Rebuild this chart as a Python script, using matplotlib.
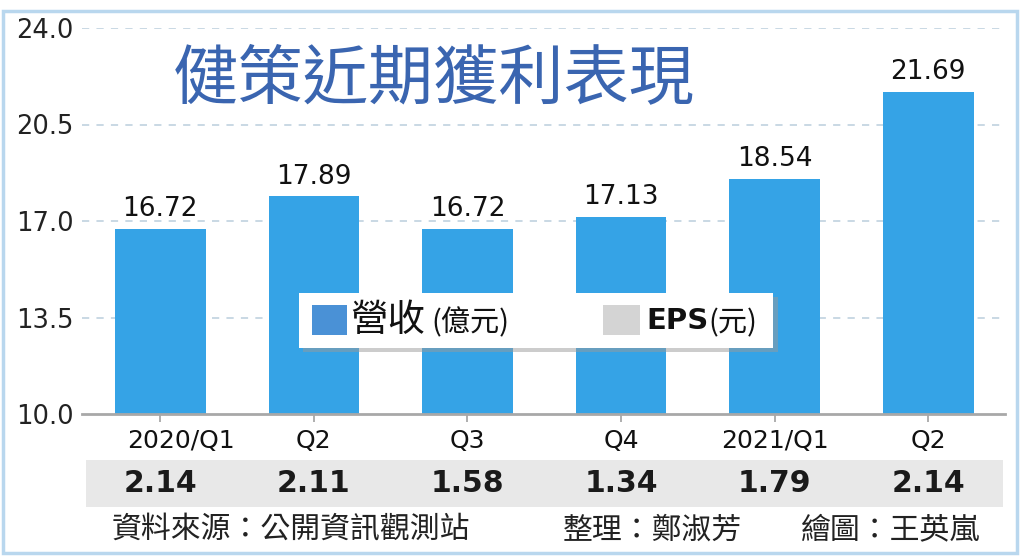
import matplotlib
matplotlib.use("Agg")
import matplotlib.pyplot as plt
from matplotlib.patches import Rectangle, FancyBboxPatch
import matplotlib.transforms as mtransforms

plt.rcParams['font.family'] = ['DejaVu Sans', 'Noto Sans CJK TC']

categories = ["2020/Q1", "Q2", "Q3", "Q4", "2021/Q1", "Q2"]
revenue = [16.72, 17.89, 16.72, 17.13, 18.54, 21.69]
eps = [2.14, 2.11, 1.58, 1.34, 1.79, 2.14]
yticks = [10.0, 13.5, 17.0, 20.5, 24.0]

W, H = 1024, 559
fig = plt.figure(figsize=(W / 100, H / 100), dpi=100)

def fx(x):
    return x / W

def fy(y):
    return 1 - y / H

# outer frame
fig.patches.append(Rectangle((fx(3), fy(553)), fx(1017) - fx(3), fy(11) - fy(553),
                             transform=fig.transFigure, fill=False,
                             edgecolor="#b9d7ee", lw=2.5, zorder=-2))

# EPS band
fig.patches.append(Rectangle((fx(86), fy(507)), fx(1003) - fx(86), fy(460) - fy(507),
                             transform=fig.transFigure, facecolor="#e8e8e8",
                             edgecolor="none", zorder=-1))

ax = fig.add_axes([fx(82), fy(414), fx(1005) - fx(82), fy(28) - fy(414)])
ax.patch.set_alpha(0)
x = list(range(len(categories)))
bars = ax.bar(x, revenue, width=0.59, color="#35a3e6", zorder=2)
ax.set_xlim(-0.51, 5.5)
ax.set_ylim(10.0, 24.0)
ax.set_yticks(yticks)
ax.set_yticklabels([f"{v:.1f}" for v in yticks], fontsize=18.5, color="#222222")
ax.tick_params(axis="y", length=0, pad=6)
for v in yticks[1:]:
    ax.axhline(v, color="#c5d5e2", lw=1.3, ls=(0, (4, 4)), zorder=1)
for s in ["top", "right", "left"]:
    ax.spines[s].set_visible(False)
ax.spines["bottom"].set_color("#a8a8a8")
ax.spines["bottom"].set_linewidth(2)

ax.set_xticks(x)
ax.set_xticklabels(categories, fontsize=18, color="#111111")
ax.tick_params(axis="x", length=6, width=1.3, color="#a8a8a8", pad=5)
lab0 = ax.get_xticklabels()[0]
lab0.set_transform(lab0.get_transform() + mtransforms.ScaledTranslation(21 / 100, 0, fig.dpi_scale_trans))

for xi, v in zip(x, revenue):
    ax.annotate(f"{v:.2f}", (xi, v), xytext=(0, 5), textcoords="offset points",
                ha="center", va="bottom", fontsize=19, color="#111111")

btrans = mtransforms.blended_transform_factory(ax.transData, fig.transFigure)
for xi, v in zip(x, eps):
    ax.text(xi, fy(484), f"{v:.2f}", transform=btrans, ha="center", va="center",
            fontsize=21.5, fontweight="bold", color="#1a1a1a", clip_on=False)

# title
fig.text(fx(434), fy(80), "健策近期獲利表現", fontsize=47, color="#3a65b0",
         family=["Noto Sans CJK TC"], fontweight="medium", ha="center", va="center")

# legend box
shadow = FancyBboxPatch((fx(303), fy(352)), fx(775) - fx(300), fy(293) - fy(348),
                        boxstyle="square,pad=0", transform=fig.transFigure,
                        facecolor="#9a9a9a", edgecolor="none", alpha=0.5, zorder=3)
box = Rectangle((fx(299), fy(348)), fx(773) - fx(299), fy(293) - fy(348),
                transform=fig.transFigure, facecolor="white", edgecolor="none", zorder=4)
fig.patches.extend([shadow, box])
fig.patches.append(Rectangle((fx(312), fy(335)), fx(347) - fx(312), fy(305) - fy(335),
                             transform=fig.transFigure, facecolor="#4a91d6",
                             edgecolor="none", zorder=5))
fig.patches.append(Rectangle((fx(603), fy(335)), fx(640) - fx(603), fy(305) - fy(335),
                             transform=fig.transFigure, facecolor="#d4d4d4",
                             edgecolor="none", zorder=5))
fig.text(fx(350), fy(321), "營收", fontsize=27, family=["Noto Sans CJK TC"],
         color="#111111", ha="left", va="center", zorder=6)
fig.text(fx(431), fy(323), "(億元)", fontsize=21, family=["Noto Sans CJK TC"],
         color="#111111", ha="left", va="center", zorder=6)
fig.text(fx(646), fy(321), "EPS", fontsize=21, fontweight="bold", family=["DejaVu Sans"],
         color="#111111", ha="left", va="center", zorder=6)
fig.text(fx(708), fy(323), "(元)", fontsize=21, family=["Noto Sans CJK TC"],
         color="#111111", ha="left", va="center", zorder=6)

# footer
fkw = dict(fontsize=21.5, family=["Noto Sans CJK TC"], color="#222222", va="center", ha="left")
fig.text(fx(112), fy(530), "資料來源：公開資訊觀測站", **fkw)
fig.text(fx(563), fy(530), "整理：鄭淑芳", **fkw)
fig.text(fx(801), fy(530), "繪圖：王英嵐", **fkw)

fig.savefig("out.png", dpi=100)
